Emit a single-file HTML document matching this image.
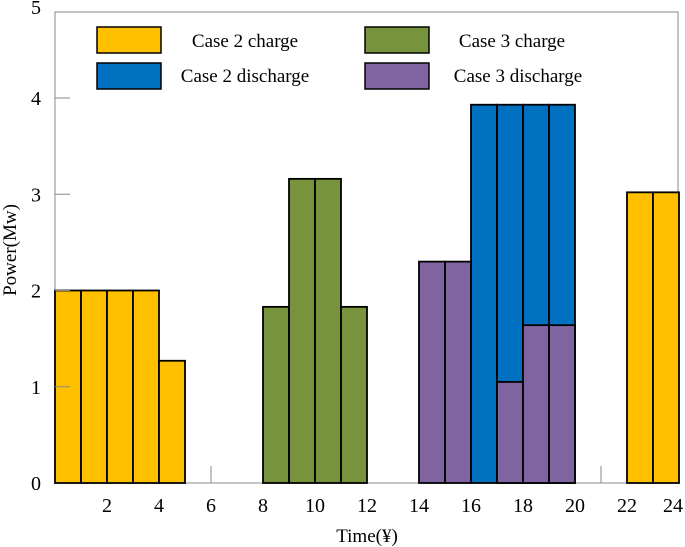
<!DOCTYPE html>
<html><head><meta charset="utf-8"><style>
body{margin:0;background:#fff}
svg{display:block;font-family:"Liberation Serif",serif}
</style></head><body>
<svg id="chart" width="685" height="547" viewBox="0 0 685 547">
<rect x="55" y="12" width="623" height="471" fill="none" stroke="#888" stroke-width="1"/>
<g id="bars"></g>
<g id="axes"></g>
<g font-size="19">
<rect x="97" y="27" width="64" height="26" fill="#FFC000" stroke="#000" stroke-width="1.5"/>
<text x="245" y="47" text-anchor="middle">Case 2 charge</text>
<rect x="97" y="63" width="64" height="26" fill="#0070C0" stroke="#000" stroke-width="1.5"/>
<text x="245" y="82" text-anchor="middle">Case 2 discharge</text>
<rect x="365" y="27" width="64" height="26" fill="#77933C" stroke="#000" stroke-width="1.5"/>
<text x="512" y="47" text-anchor="middle">Case 3 charge</text>
<rect x="365" y="63" width="64" height="26" fill="#8064A2" stroke="#000" stroke-width="1.5"/>
<text x="518" y="82" text-anchor="middle">Case 3 discharge</text>
</g>
<text x="367" y="542" text-anchor="middle" font-size="19">Time(¥)</text>
<text transform="translate(16,250) rotate(-90)" text-anchor="middle" font-size="19">Power(Mw)</text>
</svg>
<script>
const hours = [0,1,2,3,4,8,9,10,11,14,15,16,17,18,19,17,18,19,22,23];
const values = [2,2,2,2,1.27,1.83,3.16,3.16,1.83,2.3,2.3,3.93,3.93,3.93,3.93,1.05,1.64,1.64,3.02,3.02];
const series = ["c2c","c2c","c2c","c2c","c2c","c3c","c3c","c3c","c3c","c3d","c3d","c2d","c2d","c2d","c2d","c3d","c3d","c3d","c2c","c2c"];
const xTicks = [2,4,6,8,10,12,14,16,18,20,22,24];
const yTicks = [0,1,2,3,4,5];
const colors = {c2c:"#FFC000",c2d:"#0070C0",c3c:"#77933C",c3d:"#8064A2"};
const NS="http://www.w3.org/2000/svg";
const xs = h => 55 + h*26;
const ys = v => 483 - v*96.25;
const barsG=document.getElementById('bars'), axG=document.getElementById('axes');
const order=[...hours.keys()].sort((a,b)=>(series[a]==="c2d"?0:1)-(series[b]==="c2d"?0:1));
order.forEach(i=>{
  const r=document.createElementNS(NS,'rect');
  r.setAttribute('x',xs(hours[i]));r.setAttribute('width',26);
  r.setAttribute('y',ys(values[i]));r.setAttribute('height',ys(0)-ys(values[i]));
  r.setAttribute('fill',colors[series[i]]);r.setAttribute('stroke','#000');r.setAttribute('stroke-width','1.8');
  
  
  barsG.appendChild(r);
});
xTicks.forEach(t=>{
  const tx=document.createElementNS(NS,'text');
  tx.setAttribute('x',t===24?Math.min(xs(t),673):xs(t));tx.setAttribute('y',512);tx.setAttribute('text-anchor','middle');tx.setAttribute('font-size','20');
  tx.textContent=t;
  
  
  axG.appendChild(tx);
});
[6,21].forEach(t=>{
  const l=document.createElementNS(NS,'line');
  l.setAttribute('x1',xs(t));l.setAttribute('x2',xs(t));l.setAttribute('y1',483);l.setAttribute('y2',466);l.setAttribute('stroke','#888');
  
  
  axG.appendChild(l);
});
yTicks.forEach(t=>{
  const y=t===5?12:ys(t);
  const tx=document.createElementNS(NS,'text');
  tx.setAttribute('x',36);tx.setAttribute('y',(t===5?7:y)+7);tx.setAttribute('text-anchor','middle');tx.setAttribute('font-size','20');
  tx.textContent=t;
  
  
  axG.appendChild(tx);
  if(t>0&&t<5){const l=document.createElementNS(NS,'line');
  l.setAttribute('x1',55);l.setAttribute('x2',70);l.setAttribute('y1',y);l.setAttribute('y2',y);l.setAttribute('stroke','#888');
  
  
  axG.insertBefore(l,axG.firstChild);}
});
</script>
</body></html>
